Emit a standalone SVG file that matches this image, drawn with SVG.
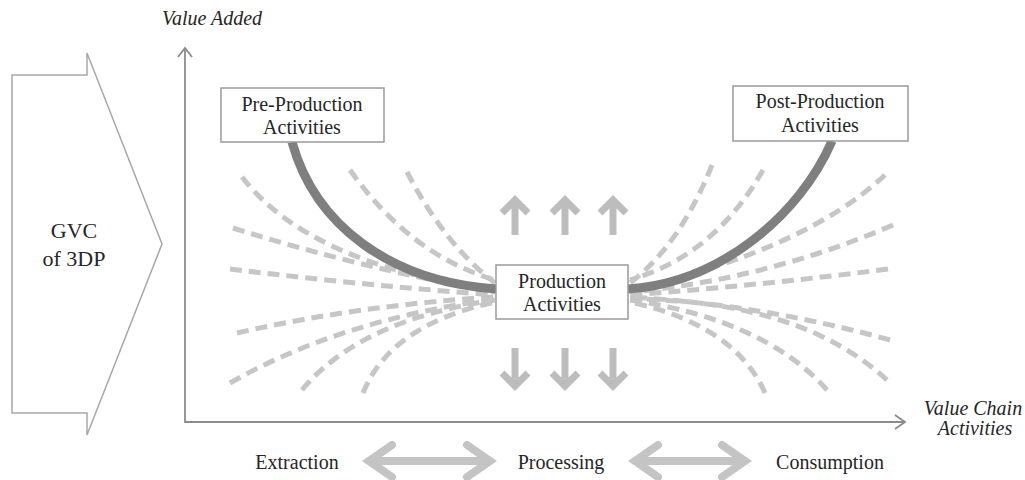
<svg xmlns="http://www.w3.org/2000/svg" width="1025" height="480" viewBox="0 0 1025 480">
<style>
text{font-family:"Liberation Serif",Tinos,"Times New Roman",Times,"Noto Serif","DejaVu Serif",FreeSerif,serif;fill:#262626;font-size:20px}
.it{font-style:italic}
.box{fill:#fff;stroke:#9a9a9a;stroke-width:1.5}
.axis{fill:none;stroke:#8c8c8c;stroke-width:1.8}
.solid{fill:none;stroke:#7f7f7f;stroke-width:9}
.dash{fill:none;stroke:#c6c6c6;stroke-width:5;stroke-dasharray:12 7}
.va{fill:none;stroke:#bdbdbd;stroke-width:7;stroke-linejoin:miter;stroke-linecap:butt}
.ha{fill:none;stroke:#c4c4c4;stroke-width:8;stroke-linejoin:miter;stroke-linecap:round}
</style>
<rect width="1025" height="480" fill="#fff"/>
<g id="gvc">
<polygon points="12,75 87,75 87,53 162,244 87,435 87,413 12,413" fill="#fff" stroke="#a8a8a8" stroke-width="1.5"/>
<text x="74" y="238" text-anchor="middle" style="font-size:22px">GVC</text>
<text x="74" y="266" text-anchor="middle" style="font-size:22px">of 3DP</text>
</g>
<g id="axes">
<path class="axis" d="M185,48 V422 H905"/>
<path class="axis" d="M178,57 L185,48 L192,57"/>
<path class="axis" d="M895,415 L905,422 L895,429"/>
<text class="it" x="212" y="25" text-anchor="middle">Value Added</text>
<text class="it" x="973" y="415" text-anchor="middle">Value Chain</text>
<text class="it" x="975" y="435" text-anchor="middle">Activities</text>
</g>
<g id="connectors">
<g id="dashed-left">
<path class="dash" d="M350,170 Q410,255 495,280"/>
<path class="dash" d="M407,172 Q445,245 495,283"/>
<path class="dash" d="M242,177 Q310,265 495,290"/>
<path class="dash" d="M233,228 Q360,268 495,292"/>
<path class="dash" d="M230,269 Q360,285 495,295"/>
<path class="dash" d="M237,333 Q360,305 495,297"/>
<path class="dash" d="M230,383 Q340,320 495,299"/>
<path class="dash" d="M302,390 Q360,320 495,300"/>
<path class="dash" d="M363,393 Q390,325 495,302"/>
</g>
<g id="dashed-right">
<path class="dash" d="M712,165 Q680,245 630,283"/>
<path class="dash" d="M763,170 Q715,255 630,280"/>
<path class="dash" d="M885,175 Q805,250 630,290"/>
<path class="dash" d="M893,225 Q765,280 630,292"/>
<path class="dash" d="M888,269 Q765,285 630,295"/>
<path class="dash" d="M890,340 Q765,305 630,297"/>
<path class="dash" d="M887,380 Q800,300 630,299"/>
<path class="dash" d="M827,390 Q765,320 630,300"/>
<path class="dash" d="M765,393 Q735,325 630,302"/>
</g>
<path class="solid" d="M292,142 C315,225 390,282 497,289"/>
<path class="solid" d="M628,289 C720,283 800,215 832,141"/>
<g id="up-arrows">
<path class="va" d="M515,235 V200 M502,213 L515,200 L528,213"/>
<path class="va" d="M565,235 V200 M552,213 L565,200 L578,213"/>
<path class="va" d="M613,235 V200 M600,213 L613,200 L626,213"/>
</g>
<g id="down-arrows">
<path class="va" d="M515,348 V386 M502,373 L515,386 L528,373"/>
<path class="va" d="M565,348 V386 M552,373 L565,386 L578,373"/>
<path class="va" d="M613,348 V386 M600,373 L613,386 L626,373"/>
</g>
<g id="flow-arrows">
<path class="ha" d="M369,461 H490 M392,445 L369,461 L392,477 M467,445 L490,461 L467,477"/>
<path class="ha" d="M635,461 H745 M658,445 L635,461 L658,477 M722,445 L745,461 L722,477"/>
</g>
</g>
<g id="pre-production">
<rect class="box" x="221" y="88" width="163" height="54"/>
<text x="302" y="111" text-anchor="middle">Pre-Production</text>
<text x="302" y="134" text-anchor="middle">Activities</text>
</g>
<g id="post-production">
<rect class="box" x="733" y="86" width="175" height="55"/>
<text x="820" y="108" text-anchor="middle">Post-Production</text>
<text x="820" y="132" text-anchor="middle">Activities</text>
</g>
<g id="production">
<rect class="box" x="496" y="265" width="132" height="54"/>
<text x="562" y="288" text-anchor="middle">Production</text>
<text x="562" y="311" text-anchor="middle">Activities</text>
</g>
<g id="stages">
<text x="297" y="469" text-anchor="middle">Extraction</text>
<text x="561" y="469" text-anchor="middle">Processing</text>
<text x="830" y="469" text-anchor="middle">Consumption</text>
</g>
</svg>
